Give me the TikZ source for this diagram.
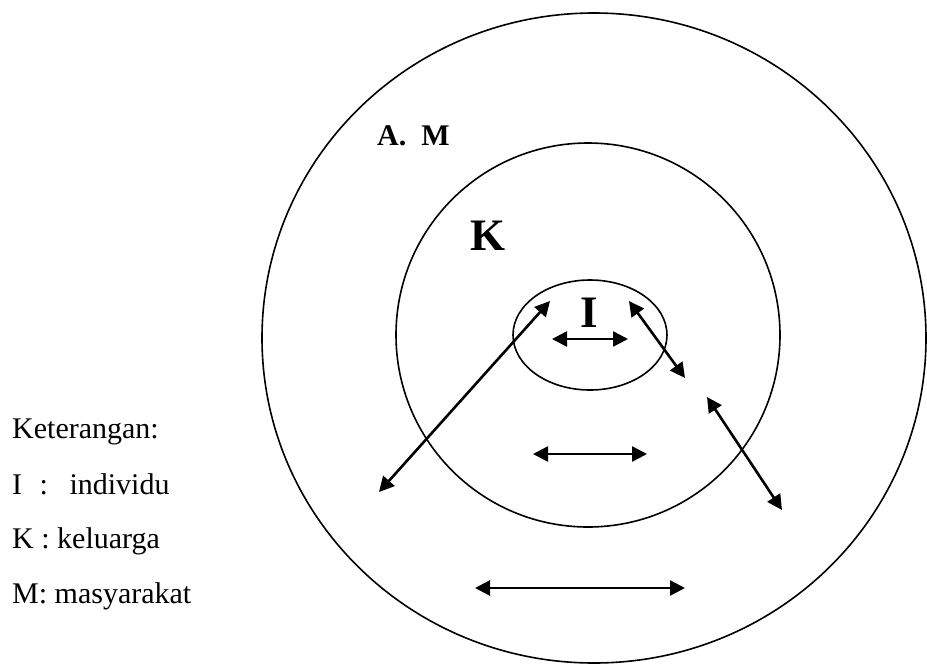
\documentclass[tikz,border=0pt]{standalone}
\usepackage{fontspec}
\setmainfont{Liberation Serif}
\usetikzlibrary{arrows.meta,shapes.geometric}
\begin{document}
\begin{tikzpicture}[x=1pt,y=-1pt,
  ring/.style={draw, shape=ellipse, line width=1.6pt, inner sep=0pt},
  link/.style={line width=2.6pt, {Triangle[length=15pt,width=15pt]}-{Triangle[length=15pt,width=15pt]}},
  legend/.style={anchor=base west, inner sep=0pt, font=\fontsize{30}{36}\selectfont},
  biglab/.style={anchor=base west, inner sep=0pt, font=\bfseries\fontsize{45}{54}\selectfont},
  smalllab/.style={anchor=base west, inner sep=0pt, font=\bfseries\fontsize{30}{36}\selectfont}]
\useasboundingbox (0,0) rectangle (927,665);
% rings
\node[ring, minimum width=664pt, minimum height=650pt] (M) at (594,338) {};
\node[ring, minimum width=384pt, minimum height=384pt] (K) at (588,335) {};
\node[ring, minimum width=154pt, minimum height=110pt] (I) at (590,335) {};
% labels
\node[smalllab] (lm) at (377,145) {A.\ \ M};
\node[biglab] (lk) at (470,250) {K};
\node[biglab, anchor=base] (li) at (589,327) {I};
% arrow end points
\coordinate (a1s) at (552,339); \coordinate (a1e) at (628,339);
\coordinate (a2s) at (379,492); \coordinate (a2e) at (550,301);
\coordinate (a3s) at (629,301); \coordinate (a3e) at (685,378);
\coordinate (a4s) at (707,397); \coordinate (a4e) at (782,510);
\coordinate (a5s) at (533,454); \coordinate (a5e) at (647,454);
\coordinate (a6s) at (475,588); \coordinate (a6e) at (685,588);
\draw[link] (a1s) -- (a1e);
\draw[link] (a2s) -- (a2e);
\draw[link] (a3s) -- (a3e);
\draw[link] (a4s) -- (a4e);
\draw[link] (a5s) -- (a5e);
\draw[link] (a6s) -- (a6e);
% legend
\node[legend] (k0) at (12,438) {Keterangan:};
\node[legend] (k1) at (12,494) {I\hspace{10pt} :\hspace{14pt} individu};
\node[legend] (k2) at (12,548) {K : keluarga};
\node[legend] (k3) at (12,603) {M: masyarakat};
\end{tikzpicture}
\end{document}
